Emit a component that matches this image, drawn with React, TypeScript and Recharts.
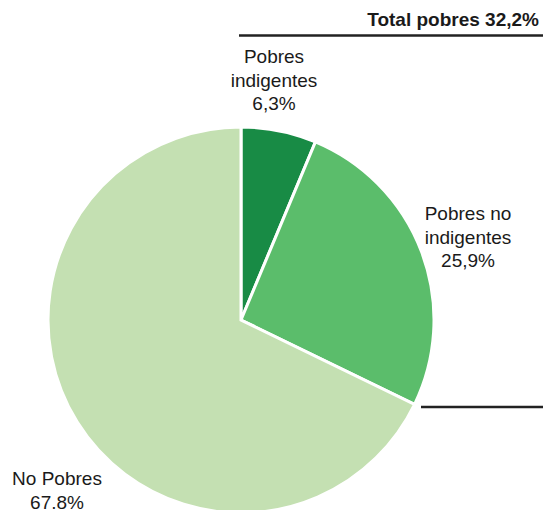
import React from "react";
import { PieChart, Pie, Cell } from "recharts";

const categories = ["Pobres indigentes", "Pobres no indigentes", "No Pobres"];
const labelLines = [["Pobres", "indigentes", "6,3%"], ["Pobres no", "indigentes", "25,9%"], ["No Pobres", "67.8%"]];
const values = [6.3, 25.9, 67.8];
const colors = ["#188b45", "#5bbd6b", "#c4e0b2"];
const totalLabel = "Total pobres 32,2%";

const data = categories.map((name, i) => ({ name, value: values[i] }));

// label anchor offsets relative to pie center (layout only)
const labelOffsets = [
  { dx: 33, dy: -257 },
  { dx: 227, dy: -100 },
  { dx: -184, dy: 165 },
];

const FONT = "'Liberation Sans', Arial, Helvetica, sans-serif";

const renderLabel = (props: any) => {
  const { cx, cy, index } = props;
  const off = labelOffsets[index];
  const lines = labelLines[index];
  return (
    <text
      key={`lbl-${index}`}
      x={cx + off.dx}
      y={cy + off.dy}
      textAnchor="middle"
      fontFamily={FONT}
      fontSize={19}
      fill="#1a1a1a"
    >
      {lines.map((l, j) => (
        <tspan key={j} x={cx + off.dx} dy={j === 0 ? 0 : 23.5}>
          {l}
        </tspan>
      ))}
    </text>
  );
};

export default function App() {
  return (
    <div style={{ position: "absolute", left: 0, top: 0, width: 543, height: 510, background: "#fff", overflow: "hidden" }}>
      <PieChart width={543} height={510} margin={{ top: 0, right: 0, bottom: 0, left: 0 }}>
        <Pie
          data={data}
          dataKey="value"
          nameKey="name"
          cx={241}
          cy={320}
          outerRadius={193}
          startAngle={90}
          endAngle={-270}
          stroke="#ffffff"
          strokeWidth={3}
          label={renderLabel}
          labelLine={false}
          isAnimationActive={false}
        >
          {data.map((d, i) => (
            <Cell key={d.name} fill={colors[i]} />
          ))}
        </Pie>
      </PieChart>
      <svg width={543} height={510} style={{ position: "absolute", left: 0, top: 0, pointerEvents: "none" }}>
        <line x1={239} y1={35.5} x2={543} y2={35.5} stroke="#222" strokeWidth={2.5} />
        <line x1={421} y1={407} x2={543} y2={407} stroke="#222" strokeWidth={2.5} />
        <text x={539} y={26} textAnchor="end" fontFamily={FONT} fontSize={19} fontWeight="bold" fill="#1a1a1a">
          {totalLabel}
        </text>
      </svg>
    </div>
  );
}
